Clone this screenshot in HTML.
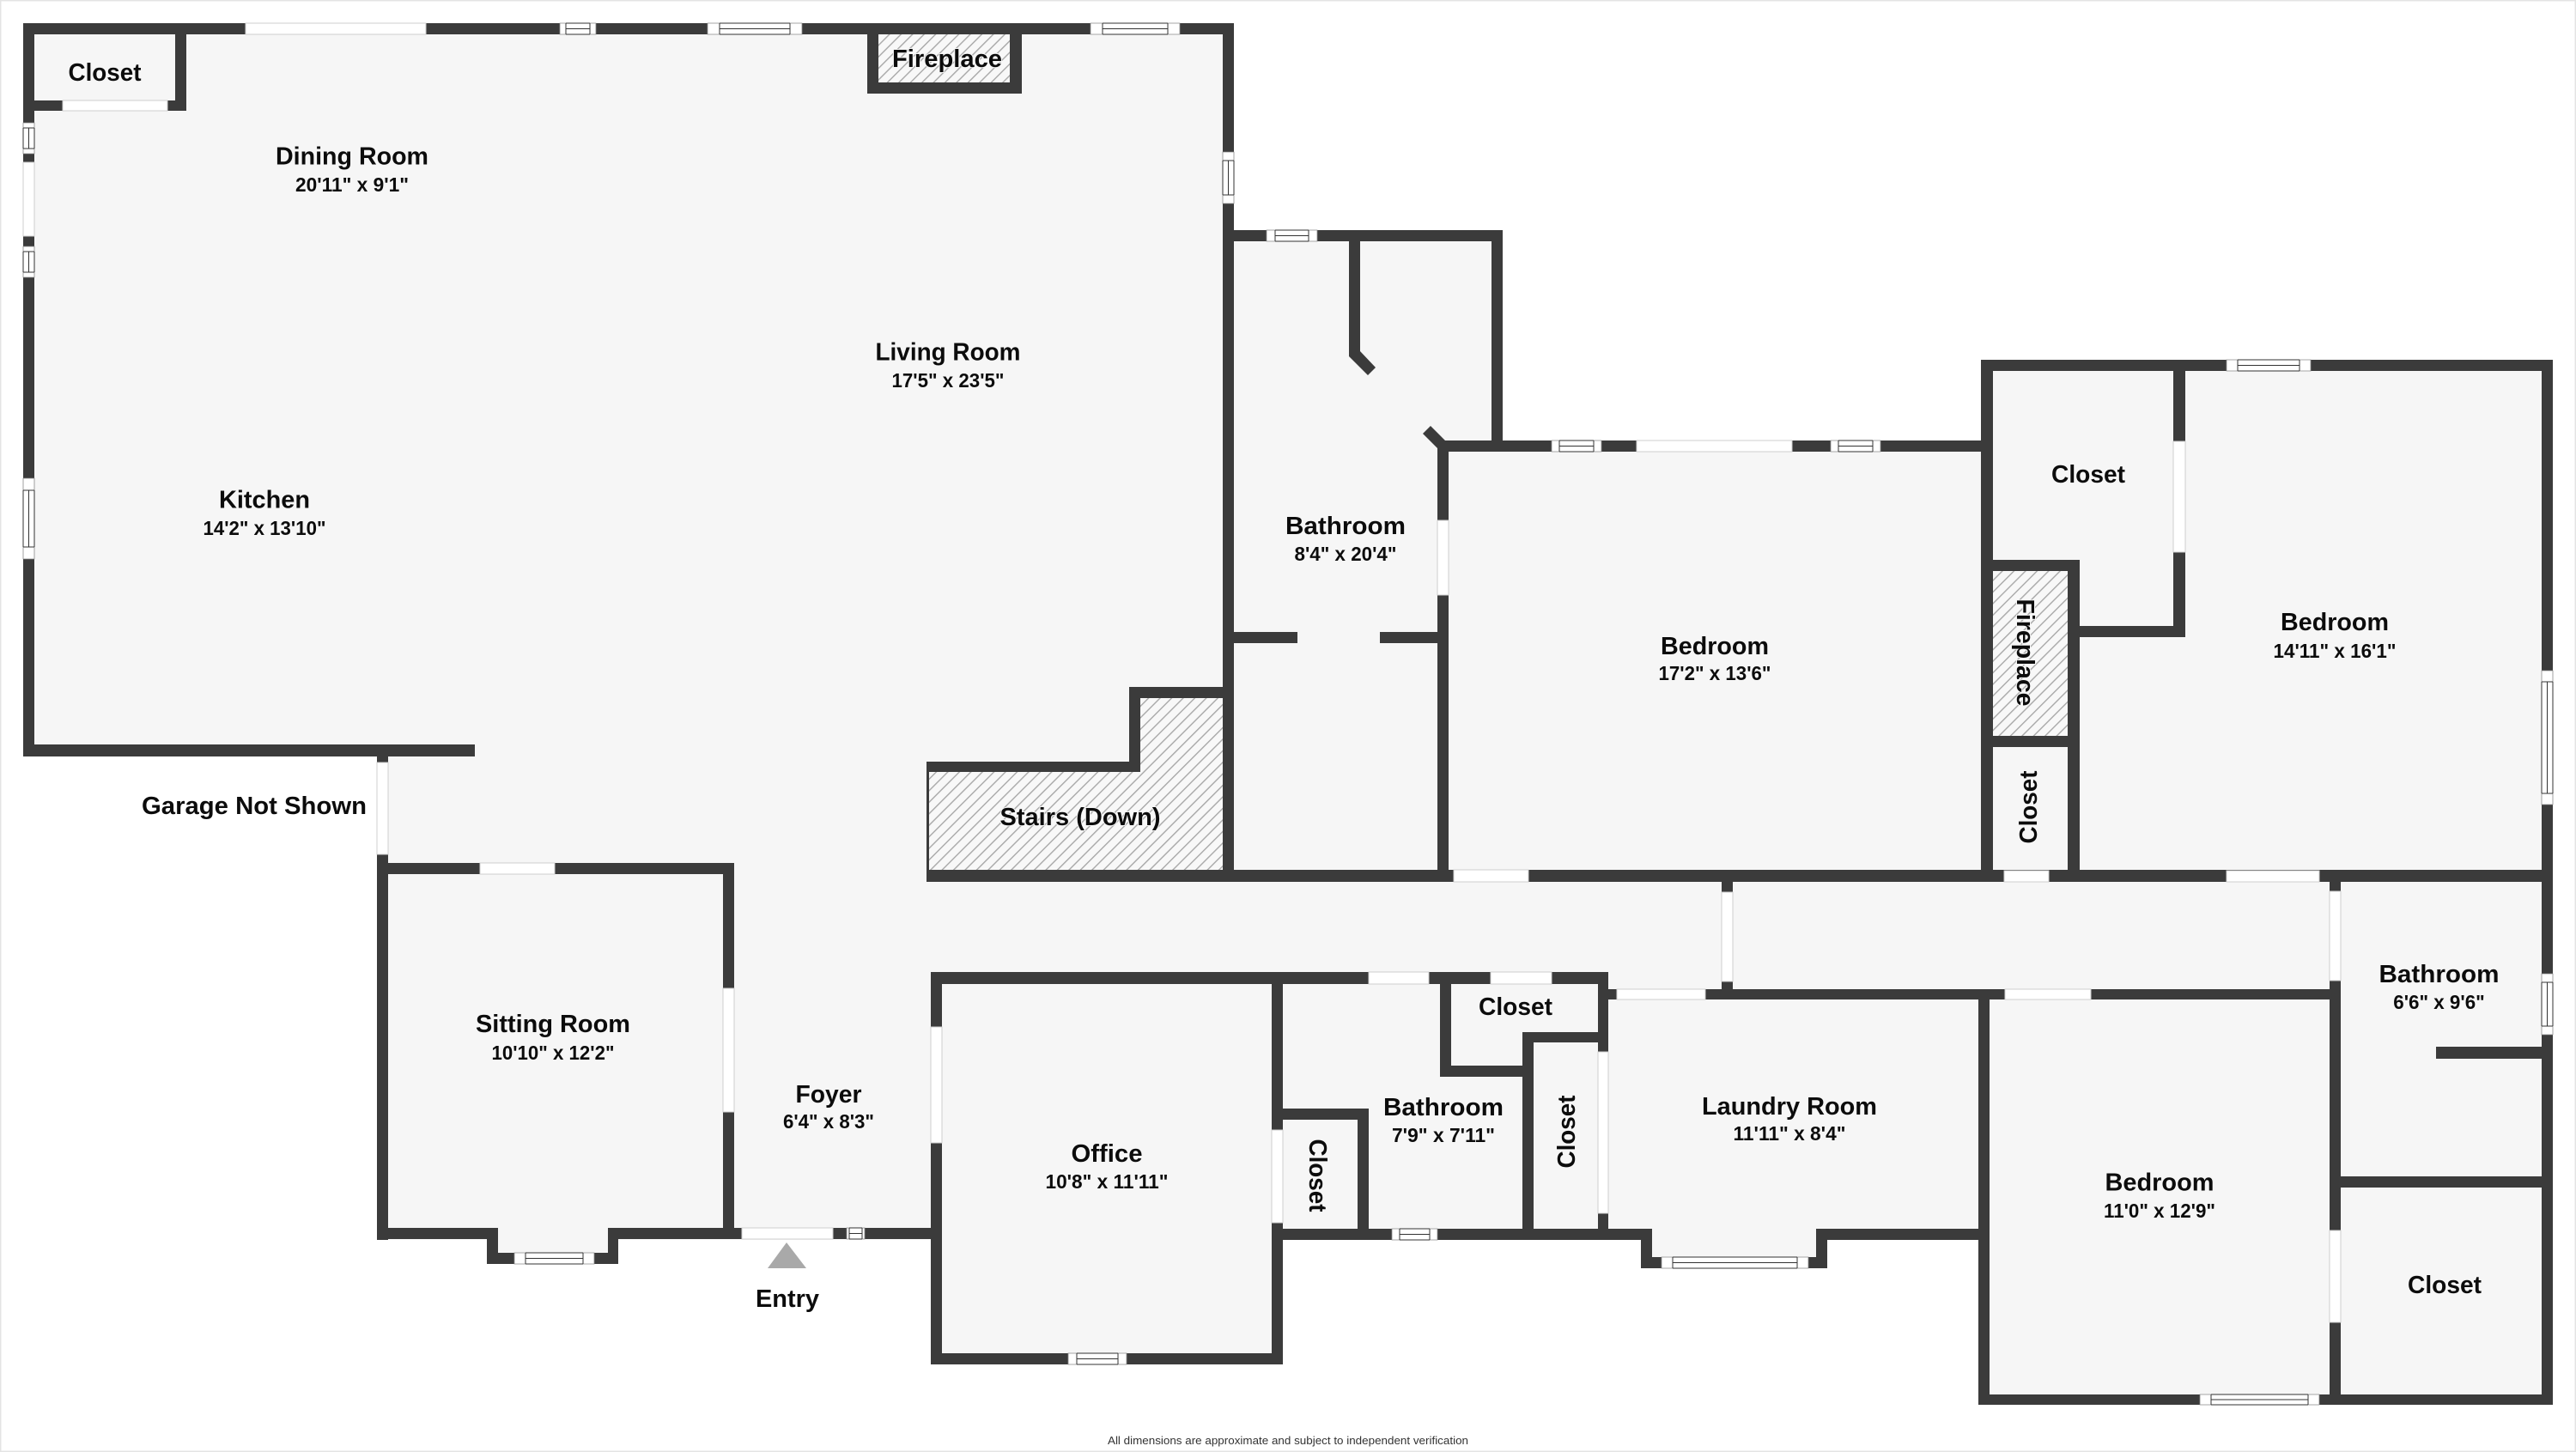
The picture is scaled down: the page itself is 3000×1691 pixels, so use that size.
<!DOCTYPE html>
<html lang="en"><head><meta charset="utf-8"><title>Floor plan</title>
<style>
html,body{margin:0;padding:0;background:#fff}
svg{display:block}
text{font-family:"Liberation Sans",sans-serif;font-weight:700;fill:#0c0c0c;text-anchor:middle}
.n{font-size:29px}
.d{font-size:23px}
.h{paint-order:stroke;stroke:#f6f6f6;stroke-width:2px}
</style></head><body>
<svg xmlns="http://www.w3.org/2000/svg" width="3000" height="1691" viewBox="0 0 3000 1691">
<defs>
<pattern id="hatch" patternUnits="userSpaceOnUse" width="9.5" height="9.5" patternTransform="rotate(45)">
<rect width="9.5" height="9.5" fill="#f8f8f8"/><rect x="0" y="0" width="1.4" height="9.5" fill="#a8a8a8"/>
</pattern>
</defs>
<rect x="0.75" y="0.75" width="2998.5" height="1689.5" fill="#fff" stroke="#e4e4e4" stroke-width="1.5"/>
<!-- floor -->
<path fill="#f6f6f6" d="M27 27H1437V268H1750V513H2307V419H2973V1636H2304V1444H2128V1477H1911V1444H1494V1589H1084V1444H720V1472H567V1444H439V881H27Z"/>
<!-- hatched areas -->
<path fill="url(#hatch)" d="M1082 899H1328V813H1424V1013H1082Z"/>
<rect x="1023" y="40" width="153" height="56" fill="url(#hatch)"/>
<rect x="2321" y="665" width="87" height="192" fill="url(#hatch)"/>
<!-- walls -->
<path fill="#3b3b3b" d="
M27 27H1437V40H27Z M27 27H40V881H27Z M27 867H553V881H27Z
M204 27H217V129H204Z M27 117H217V129H27Z
M1010 27H1023V109H1010Z M1176 27H1190V109H1176Z M1010 96H1190V109H1010Z
M1424 27H1437V1027H1424Z M1424 268H1750V281H1424Z
M1571 268H1584V409L1602 428L1593 437L1571 415Z
M1737 268H1750V526H1737Z M1674 513H2321V526H1674Z
M1666 496L1683 513L1687 517V1027H1674V522L1657 505Z
M1437 736H1511V749H1437Z M1607 736H1687V749H1607Z
M1079 887H1328V899H1079Z M1315 800H1328V899H1315Z M1315 800H1437V813H1315Z
M1079 1013H2973V1027H1079Z M1079 887H1082V1027H1079Z
M2307 419H2321V1027H2307Z M2307 419H2973V432H2307Z M2960 419H2973V1636H2960Z
M2531 419H2545V742H2531Z M2408 729H2545V742H2408Z M2408 652H2422V1027H2408Z
M2307 652H2422V665H2307Z M2307 857H2422V870H2307Z
M439 867H452V1444H439Z M439 1430H580V1443H439Z M567 1430H580V1472H567Z
M567 1459H720V1472H567Z M708 1430H720V1472H708Z M708 1430H1084V1443H708Z
M439 1005H855V1018H439Z M842 1005H855V1443H842Z
M1084 1132H1873V1146H1084Z M1084 1132H1097V1589H1084Z M1481 1132H1494V1589H1481Z M1084 1576H1494V1589H1084Z
M1677 1132H1690V1254H1677Z M1677 1241H1786V1254H1677Z M1773 1202H1786V1444H1773Z
M1773 1202H1873V1214H1773Z M1861 1132H1873V1444H1861Z
M1494 1291H1594V1304H1494Z M1581 1291H1594V1444H1581Z M1481 1431H1924V1444H1481Z
M1911 1431H1924V1477H1911Z M1911 1464H2128V1477H1911Z M2115 1431H2128V1477H2115Z M2115 1431H2304V1444H2115Z
M1861 1152H2726V1164H1861Z M2005 1014H2018V1164H2005Z
M2304 1152H2317V1636H2304Z M2304 1624H2973V1636H2304Z M2713 1014H2726V1636H2713Z
M2837 1219H2960V1233H2837Z M2713 1370H2960V1383H2713Z"/>
<!-- doors -->
<path fill="#fff" stroke="#cfcfcf" stroke-width="1" d="
M286 27H496V40H286Z M73 117H195V129H73Z M1906 513H2087V526H1906Z M1693 1013H1780V1027H1693Z
M2334 1014H2386V1027H2334Z M2593 1014H2701V1027H2593Z M559 1005H646V1018H559Z M864 1430H970V1443H864Z
M1594 1132H1664V1146H1594Z M1736 1132H1807V1146H1736Z M1883 1152H1986V1164H1883Z M2335 1152H2435V1164H2335Z
M27 189H40V275H27Z M439 888H452V995H439Z M842 1151H855V1295H842Z M1084 1196H1097V1331H1084Z
M1481 1316H1494V1424H1481Z M1674 606H1687V693H1674Z M1861 1225H1873V1413H1861Z M2005 1039H2018V1143H2005Z
M2531 514H2545V643H2531Z M2713 1038H2726V1142H2713Z M2713 1433H2726V1540H2713Z"/>
<!-- windows -->
<path fill="#fff" stroke="#8a8a8a" stroke-width="0.8" d="
M652 27H694V40H652Z M824 27H934V40H824Z M1270 27H1374V40H1270Z M1475 268H1534V281H1475Z
M1807 513H1865V526H1807Z M2132 513H2190V526H2132Z M2593 419H2691V432H2593Z M599 1459H692V1472H599Z
M986 1430H1007V1443H986Z M1244 1576H1312V1589H1244Z M1621 1431H1674V1444H1621Z M1935 1464H2106V1477H1935Z
M2562 1624H2701V1636H2562Z
M27 143H40V179H27Z M27 287H40V323H27Z M27 557H40V651H27Z M1424 177H1437V237H1424Z
M2960 781H2973V937H2960Z M2960 1134H2973V1205H2960Z"/>
<path fill="none" stroke="#333" stroke-width="1" d="
M659 27V40M687 27V40M659 27H687M659 40H687M659 33.5H687
M838 27V40M920 27V40M838 27H920M838 40H920M838 33.5H920
M1284 27V40M1360 27V40M1284 27H1360M1284 40H1360M1284 33.5H1360
M1485 268V281M1524 268V281M1485 268H1524M1485 281H1524M1485 274.5H1524
M1816 513V526M1856 513V526M1816 513H1856M1816 526H1856M1816 519.5H1856
M2141 513V526M2181 513V526M2141 513H2181M2141 526H2181M2141 519.5H2181
M2606 419V432M2678 419V432M2606 419H2678M2606 432H2678M2606 425.5H2678
M612 1459V1472M679 1459V1472M612 1459H679M612 1472H679M612 1465.5H679
M989 1430V1443M1004 1430V1443M989 1430H1004M989 1443H1004M989 1436.5H1004
M1254 1576V1589M1302 1576V1589M1254 1576H1302M1254 1589H1302M1254 1582.5H1302
M1630 1431V1444M1665 1431V1444M1630 1431H1665M1630 1444H1665M1630 1437.5H1665
M1948 1464V1477M2093 1464V1477M1948 1464H2093M1948 1477H2093M1948 1470.5H2093
M2575 1624V1636M2688 1624V1636M2575 1624H2688M2575 1636H2688M2575 1630H2688
M27 149H40M27 173H40M27 149V173M40 149V173M33.5 149V173
M27 293H40M27 317H40M27 293V317M40 293V317M33.5 293V317
M27 571H40M27 637H40M27 571V637M40 571V637M33.5 571V637
M1424 187H1437M1424 227H1437M1424 187V227M1437 187V227M1430.5 187V227
M2960 794H2973M2960 924H2973M2960 794V924M2973 794V924M2966.5 794V924
M2960 1144H2973M2960 1195H2973M2960 1144V1195M2973 1144V1195M2966.5 1144V1195"/>
<!-- entry marker -->
<path fill="#a9a9a9" d="M916 1447L939 1477H894Z"/>
<!-- labels -->
<text class="n" x="122" y="94" textLength="85" lengthAdjust="spacingAndGlyphs">Closet</text>
<text class="n" x="410" y="191.5" textLength="178" lengthAdjust="spacingAndGlyphs">Dining Room</text>
<text class="d" x="410" y="223" textLength="132" lengthAdjust="spacingAndGlyphs">20'11" x 9'1"</text>
<text class="n h" x="1103" y="78" textLength="128" lengthAdjust="spacingAndGlyphs">Fireplace</text>
<text class="n" x="1104" y="419.5" textLength="169" lengthAdjust="spacingAndGlyphs">Living Room</text>
<text class="d" x="1104" y="451" textLength="131" lengthAdjust="spacingAndGlyphs">17'5" x 23'5"</text>
<text class="n" x="308" y="591.5" textLength="106" lengthAdjust="spacingAndGlyphs">Kitchen</text>
<text class="d" x="308" y="623" textLength="143" lengthAdjust="spacingAndGlyphs">14'2" x 13'10"</text>
<text class="n" x="296" y="948" textLength="262" lengthAdjust="spacingAndGlyphs">Garage Not Shown</text>
<text class="n h" x="1258" y="961" textLength="187" lengthAdjust="spacingAndGlyphs">Stairs (Down)</text>
<text class="n" x="1567" y="622" textLength="140" lengthAdjust="spacingAndGlyphs">Bathroom</text>
<text class="d" x="1567" y="653" textLength="119" lengthAdjust="spacingAndGlyphs">8'4" x 20'4"</text>
<text class="n" x="1997" y="762" textLength="126" lengthAdjust="spacingAndGlyphs">Bedroom</text>
<text class="d" x="1997" y="792" textLength="131" lengthAdjust="spacingAndGlyphs">17'2" x 13'6"</text>
<text class="n" x="2432" y="562" textLength="86" lengthAdjust="spacingAndGlyphs">Closet</text>
<text class="n" x="2719" y="734" textLength="126" lengthAdjust="spacingAndGlyphs">Bedroom</text>
<text class="d" x="2719" y="766" textLength="143" lengthAdjust="spacingAndGlyphs">14'11" x 16'1"</text>
<text class="n h" transform="translate(2349 760) rotate(90)" textLength="125" lengthAdjust="spacingAndGlyphs">Fireplace</text>
<text class="n" transform="translate(2372 940) rotate(-90)" textLength="85" lengthAdjust="spacingAndGlyphs">Closet</text>
<text class="n" x="644" y="1202" textLength="180" lengthAdjust="spacingAndGlyphs">Sitting Room</text>
<text class="d" x="644" y="1234" textLength="143" lengthAdjust="spacingAndGlyphs">10'10" x 12'2"</text>
<text class="n" x="965" y="1284" textLength="77" lengthAdjust="spacingAndGlyphs">Foyer</text>
<text class="d" x="965" y="1314" textLength="106" lengthAdjust="spacingAndGlyphs">6'4" x 8'3"</text>
<text class="n" x="917" y="1522" textLength="74" lengthAdjust="spacingAndGlyphs">Entry</text>
<text class="n" x="1289" y="1353" textLength="83" lengthAdjust="spacingAndGlyphs">Office</text>
<text class="d" x="1289" y="1384" textLength="143" lengthAdjust="spacingAndGlyphs">10'8" x 11'11"</text>
<text class="n" x="1681" y="1299" textLength="140" lengthAdjust="spacingAndGlyphs">Bathroom</text>
<text class="d" x="1681" y="1330" textLength="120" lengthAdjust="spacingAndGlyphs">7'9" x 7'11"</text>
<text class="n" x="1765" y="1182" textLength="86" lengthAdjust="spacingAndGlyphs">Closet</text>
<text class="n" transform="translate(1525 1369) rotate(90)" textLength="85" lengthAdjust="spacingAndGlyphs">Closet</text>
<text class="n" transform="translate(1834 1318) rotate(-90)" textLength="85" lengthAdjust="spacingAndGlyphs">Closet</text>
<text class="n" x="2084" y="1298" textLength="204" lengthAdjust="spacingAndGlyphs">Laundry Room</text>
<text class="d" x="2084" y="1328" textLength="131" lengthAdjust="spacingAndGlyphs">11'11" x 8'4"</text>
<text class="n" x="2515" y="1386.5" textLength="127" lengthAdjust="spacingAndGlyphs">Bedroom</text>
<text class="d" x="2515" y="1418" textLength="130" lengthAdjust="spacingAndGlyphs">11'0" x 12'9"</text>
<text class="n" x="2840.5" y="1144" textLength="140" lengthAdjust="spacingAndGlyphs">Bathroom</text>
<text class="d" x="2840.5" y="1175" textLength="106.5" lengthAdjust="spacingAndGlyphs">6'6" x 9'6"</text>
<text class="n" x="2847" y="1506" textLength="86" lengthAdjust="spacingAndGlyphs">Closet</text>
<text x="1500" y="1682" style="font-size:13px;font-weight:400;fill:#333" textLength="420" lengthAdjust="spacingAndGlyphs">All dimensions are approximate and subject to independent verification</text>
</svg>
</body></html>
